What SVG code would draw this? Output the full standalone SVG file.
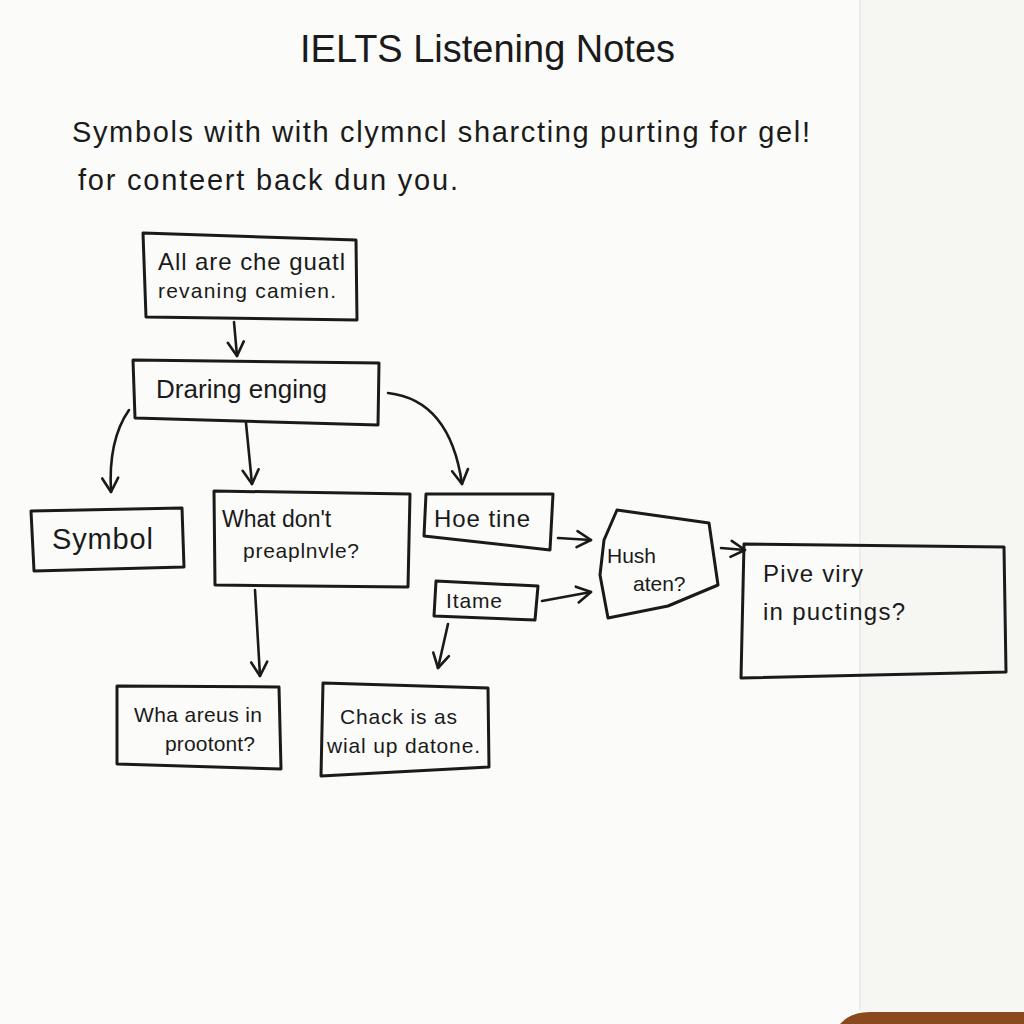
<svg xmlns="http://www.w3.org/2000/svg" width="1024" height="1024" viewBox="0 0 1024 1024">
<defs>
<style>
.box{fill:none;stroke:#1a1a1a;stroke-width:3;stroke-linejoin:round;stroke-linecap:round}
.con{fill:none;stroke:#1a1a1a;stroke-width:2.6;stroke-linecap:round}
.t{font-family:"Liberation Sans","DejaVu Sans",sans-serif;fill:#1a1a1a}
.n{font-size:24px}
.s{font-size:21px}
</style>
<marker id="ah" viewBox="0 0 20 20" refX="16" refY="10" markerWidth="20" markerHeight="20" markerUnits="userSpaceOnUse" orient="auto">
<path d="M2,2 L16,10 L2,18" fill="none" stroke="#1a1a1a" stroke-width="2.6" stroke-linecap="round" stroke-linejoin="round"/>
</marker>
</defs>
<rect x="0" y="0" width="1024" height="1024" fill="#fbfbf9"/>
<rect x="860" y="0" width="164" height="1024" fill="#f6f6f3"/>
<line x1="860" y1="0" x2="860" y2="1010" stroke="#ececea" stroke-width="2"/>
<path d="M840,1024 Q850,1012 870,1012 L1024,1012 L1024,1024 Z" fill="#8a4a1e"/>

<g id="title">
<text class="t" x="300" y="62" font-size="38" textLength="375" lengthAdjust="spacingAndGlyphs">IELTS Listening Notes</text>
</g>
<g id="intro">
<text class="t" x="72" y="142" font-size="29" textLength="738" lengthAdjust="spacing">Symbols with with clymncl sharcting purting for gel!</text>
<text class="t" x="78" y="190" font-size="29" textLength="380" lengthAdjust="spacing">for conteert back dun you.</text>
</g>

<g id="connectors">
<path class="con" d="M234,322 L237,356" marker-end="url(#ah)"/>
<path class="con" d="M129,410 Q108,440 111,492" marker-end="url(#ah)"/>
<path class="con" d="M246,423 L252,484" marker-end="url(#ah)"/>
<path class="con" d="M388,393 Q450,400 462,484" marker-end="url(#ah)"/>
<path class="con" d="M558,538 L591,540" marker-end="url(#ah)"/>
<path class="con" d="M542,601 L591,592" marker-end="url(#ah)"/>
<path class="con" d="M721,548 L745,550" marker-end="url(#ah)"/>
<path class="con" d="M255,590 L260,676" marker-end="url(#ah)"/>
<path class="con" d="M448,624 L438,668" marker-end="url(#ah)"/>
</g>

<g id="node-all">
<path class="box" d="M143,233 L356,240 L357,320 L146,317 Z"/>
<text class="t n" x="158" y="270" textLength="187" lengthAdjust="spacing">All are che guatl</text>
<text class="t s" x="158" y="298" textLength="178" lengthAdjust="spacing">revaning camien.</text>
</g>
<g id="node-draring">
<path class="box" d="M133,360 L379,363 L378,425 L135,418 Z"/>
<text class="t" x="156" y="398" font-size="26" textLength="171" lengthAdjust="spacing">Draring enging</text>
</g>
<g id="node-symbol">
<path class="box" d="M31,511 L182,508 L184,567 L34,571 Z"/>
<text class="t" x="52" y="549" font-size="29" textLength="101" lengthAdjust="spacing">Symbol</text>
</g>
<g id="node-what">
<path class="box" d="M214,491 L410,494 L408,587 L215,585 Z"/>
<text class="t" x="222" y="527" font-size="23">What don't</text>
<text class="t s" x="243" y="558" textLength="116" lengthAdjust="spacing">preaplnvle?</text>
</g>
<g id="node-hoe">
<path class="box" d="M426,494 L553,494 L550,550 L424,536 Z"/>
<text class="t n" x="434" y="527" textLength="96" lengthAdjust="spacing">Hoe tine</text>
</g>
<g id="node-itame">
<path class="box" d="M436,581 L538,586 L535,620 L434,616 Z"/>
<text class="t s" x="446" y="608" textLength="56" lengthAdjust="spacing">Itame</text>
</g>
<g id="node-hush">
<path class="box" d="M617,510 L709,523 L718,585 L668,606 L608,618 L600,575 L604,540 Z"/>
<text class="t s" x="607" y="563">Hush</text>
<text class="t s" x="633" y="591">aten?</text>
</g>
<g id="node-pive">
<path class="box" d="M744,544 L1004,547 L1006,672 L741,678 Z"/>
<text class="t n" x="763" y="582" textLength="100" lengthAdjust="spacing">Pive viry</text>
<text class="t n" x="763" y="620" textLength="142" lengthAdjust="spacing">in puctings?</text>
</g>
<g id="node-wha">
<path class="box" d="M117,686 L279,687 L281,769 L117,764 Z"/>
<text class="t s" x="134" y="722" textLength="128" lengthAdjust="spacing">Wha areus in</text>
<text class="t s" x="165" y="751" textLength="90" lengthAdjust="spacing">prootont?</text>
</g>
<g id="node-chack">
<path class="box" d="M323,683 L488,688 L489,767 L321,776 Z"/>
<text class="t s" x="340" y="724" textLength="117" lengthAdjust="spacing">Chack is as</text>
<text class="t s" x="327" y="753" textLength="153" lengthAdjust="spacing">wial up datone.</text>
</g>
</svg>
